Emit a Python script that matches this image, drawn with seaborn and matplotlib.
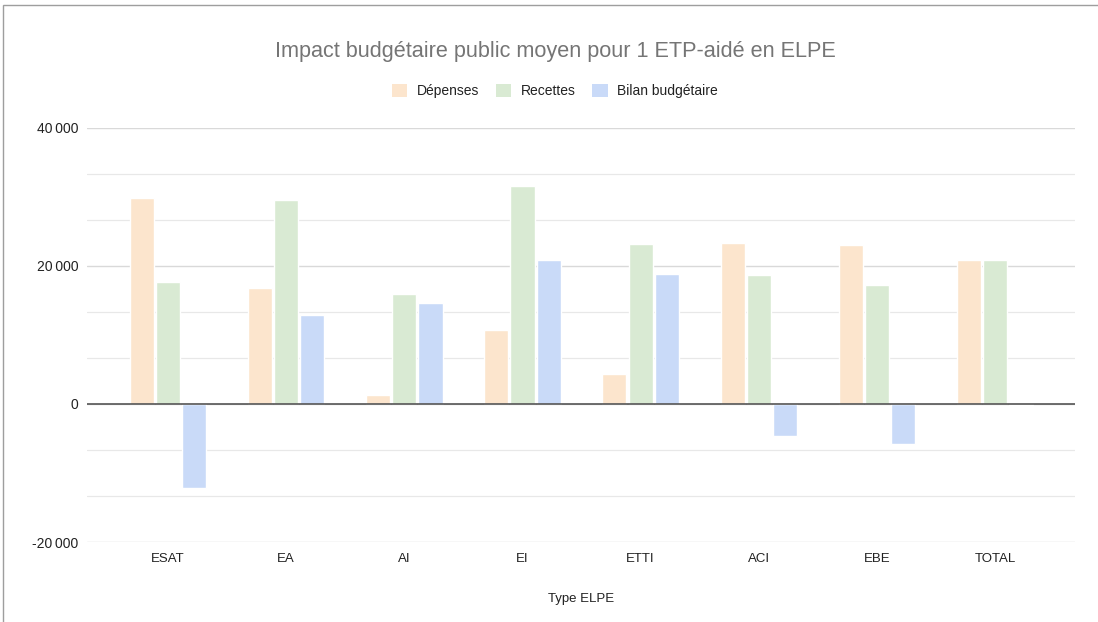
import pandas as pd
import matplotlib.pyplot as plt
from matplotlib.patches import Patch, Rectangle
from matplotlib.ticker import FuncFormatter, MultipleLocator
import seaborn as sns

# Data
types = ["ESAT", "EA", "AI", "EI", "ETTI", "ACI", "EBE", "TOTAL"]
depenses = [29800, 16750, 1260, 10750, 4300, 23350, 23000, 20850]
recettes = [17650, 29600, 15920, 31650, 23150, 18750, 17200, 20850]
bilan = [-12150, 12850, 14660, 20900, 18850, -4600, -5850, -80]
series = ["Dépenses", "Recettes", "Bilan budgétaire"]
colors = ["#fce5cd", "#d9ead3", "#c9daf8"]

df = pd.DataFrame({
    "Type ELPE": types * 3,
    "Valeur": depenses + recettes + bilan,
    "Série": [s for s in series for _ in types],
})

sns.set_theme(style="white")
plt.rcParams["font.family"] = ["Liberation Sans", "DejaVu Sans"]

fig = plt.figure(figsize=(10.98, 6.22), dpi=100)
ax = fig.add_axes([87 / 1098, 1 - 542 / 622, (1075 - 87) / 1098, (542 - 128) / 622])

sns.barplot(data=df, x="Type ELPE", y="Valeur", hue="Série", palette=colors,
            saturation=1, width=0.665, gap=0.08, legend=False, ax=ax, zorder=3)

ax.set_ylim(-20000, 40000)
ax.set_xlim(-0.686, 7.677)
ax.yaxis.set_major_locator(MultipleLocator(20000))
ax.yaxis.set_minor_locator(MultipleLocator(20000 / 3))
ax.yaxis.set_major_formatter(FuncFormatter(lambda v, p: f"{int(v):,}".replace(",", "\u202f")))
ax.grid(axis="y", which="major", color="#d9d9d9", linewidth=1.0, zorder=0)
ax.grid(axis="y", which="minor", color="#e8e8e8", linewidth=0.9, zorder=0)
ax.axhline(0, color="#555555", linewidth=1.2, zorder=4)
for s in ax.spines.values():
    s.set_visible(False)
ax.tick_params(axis="both", which="both", length=0, labelcolor="#222222")
ax.tick_params(axis="x", pad=8, labelsize=9.5)
ax.tick_params(axis="y", pad=6, labelsize=10)
ax.set_ylabel("")
ax.set_xlabel("Type ELPE", fontsize=9.5, color="#222222", labelpad=20)

fig.suptitle("Impact budgétaire public moyen pour 1 ETP-aidé en ELPE",
             x=555 / 1098, y=1 - 51 / 622, va="center", fontsize=15.6, color="#757575")

handles = [Patch(facecolor=c, edgecolor="none") for c in colors]
fig.legend(handles, series, loc="center", bbox_to_anchor=(555 / 1098, 1 - 91 / 622),
           ncol=3, frameon=False, fontsize=10, handlelength=1.1, handleheight=1.1,
           columnspacing=1.2, handletextpad=0.7, labelcolor="#222222")

# thin frame around the chart
fig.patches.append(Rectangle((3 / 1098, -0.1), 1.2, 1 - 5 / 622 + 0.1,
                             transform=fig.transFigure, fill=False,
                             edgecolor="#9e9e9e", linewidth=1.0))

fig.savefig("out.png", dpi=100)
